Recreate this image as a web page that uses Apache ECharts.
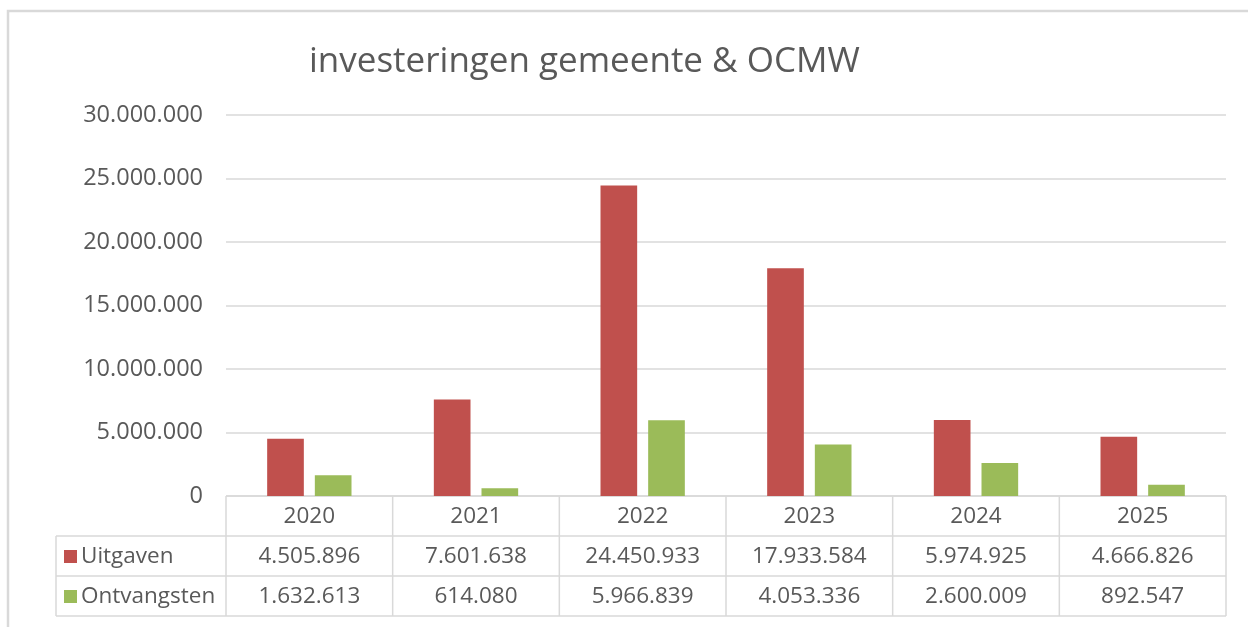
<!DOCTYPE html>
<html>
<head>
<meta charset="utf-8">
<script src="https://cdn.jsdelivr.net/npm/echarts@6/dist/echarts.min.js"></script>
<style>
  html, body { margin: 0; padding: 0; background: #fff; }
  #chart { width: 1248px; height: 627px; }
</style>
</head>
<body>
<div id="chart"></div>
<script>
// gegevens
const years = ['2020', '2021', '2022', '2023', '2024', '2025']
const uitgaven = [4505896, 7601638, 24450933, 17933584, 5974925, 4666826]
const ontvangsten = [1632613, 614080, 5966839, 4053336, 2600009, 892547]
const seriesNames = ['Uitgaven', 'Ontvangsten']
const seriesColors = ['#C0504D', '#9BBB59']

// layout
const plotLeft = 226
const plotRight = 1226
const plotTop = 115
const plotBottom = 496
const rowH = 40
const legendLeft = 56
const textColor = '#595959'
const lineColor = '#d9d9d9'
const font = '"Open Sans", sans-serif'

const fmt = v => String(v).replace(/\B(?=(\d{3})+(?!\d))/g, '.')

const chart = echarts.init(document.getElementById('chart'))

// tabel onder de grafiek
const buildTable = () => {
  const els = []
  const colW = (plotRight - plotLeft) / years.length
  const rows = [uitgaven, ontvangsten]
  const line = (x1, y1, x2, y2) => ({
    type: 'line',
    shape: { x1, y1, x2, y2 },
    style: { stroke: lineColor, lineWidth: 1.5 },
    silent: true
  })
  const text = (x, y, t, align) => ({
    type: 'text',
    x, y,
    style: {
      text: t, fill: textColor, font: '22.5px ' + font,
      textAlign: align || 'center', textVerticalAlign: 'middle'
    },
    silent: true
  })
  // horizontale lijnen
  els.push(line(plotLeft, plotBottom, plotRight, plotBottom))
  for (let r = 1; r <= 3; r++) {
    els.push(line(legendLeft, plotBottom + rowH * r, plotRight, plotBottom + rowH * r))
  }
  // verticale lijnen
  els.push(line(legendLeft, plotBottom + rowH, legendLeft, plotBottom + rowH * 3))
  for (let i = 0; i <= years.length; i++) {
    const x = plotLeft + colW * i
    els.push(line(x, plotBottom, x, plotBottom + rowH * 3))
  }
  // jaartallen
  years.forEach((y, i) => {
    els.push(text(plotLeft + colW * (i + 0.5), plotBottom + rowH * 0.5 + 1, y))
  })
  // rijen met waarden
  rows.forEach((vals, r) => {
    const cy = plotBottom + rowH * (r + 1.5) + 1
    els.push({
      type: 'rect',
      shape: { x: legendLeft + 8, y: cy - 7, width: 13, height: 13 },
      style: { fill: seriesColors[r] },
      silent: true
    })
    els.push(text(legendLeft + 25, cy, seriesNames[r], 'left'))
    vals.forEach((v, i) => {
      els.push(text(plotLeft + colW * (i + 0.5), cy, fmt(v)))
    })
  })
  // kader rond afbeelding
  els.push({
    type: 'rect',
    shape: { x: 8, y: 11, width: 1400, height: 800 },
    style: { fill: 'none', stroke: lineColor, lineWidth: 2.5 },
    silent: true
  })
  return els
}

chart.setOption({
  animation: false,
  backgroundColor: '#fff',
  title: {
    text: 'investeringen gemeente & OCMW',
    left: 304,
    top: 40,
    textStyle: { fontFamily: font, fontSize: 35, fontWeight: 'normal', color: textColor }
  },
  grid: {
    left: plotLeft,
    right: 1248 - plotRight,
    top: plotTop,
    bottom: 627 - plotBottom
  },
  xAxis: {
    type: 'category',
    data: years,
    axisLine: { show: false },
    axisTick: { show: false },
    axisLabel: { show: false }
  },
  yAxis: {
    type: 'value',
    min: 0,
    max: 30000000,
    interval: 5000000,
    axisLabel: {
      formatter: v => fmt(v),
      color: textColor,
      fontFamily: font,
      fontSize: 23.5,
      margin: 23
    },
    splitLine: { lineStyle: { color: lineColor, width: 1.5 } }
  },
  series: [
    {
      name: seriesNames[0],
      type: 'bar',
      data: uitgaven,
      barWidth: '22%',
      barGap: '30%',
      itemStyle: { color: seriesColors[0] }
    },
    {
      name: seriesNames[1],
      type: 'bar',
      data: ontvangsten,
      barWidth: '22%',
      itemStyle: { color: seriesColors[1] }
    }
  ],
  graphic: buildTable()
})
</script>
</body>
</html>
